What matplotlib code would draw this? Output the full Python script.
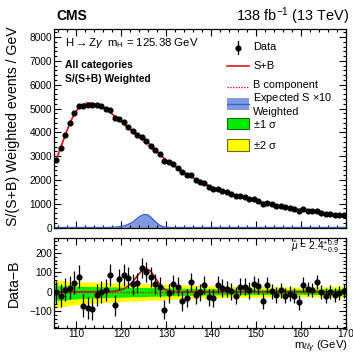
import numpy as np
import matplotlib
matplotlib.use("Agg")
import matplotlib.pyplot as plt
from matplotlib.lines import Line2D
from matplotlib.patches import Rectangle
from matplotlib.ticker import MultipleLocator

plt.rcParams['font.family'] = ['Liberation Sans', 'DejaVu Sans']
plt.rcParams['mathtext.fontset'] = 'custom'
plt.rcParams['mathtext.rm'] = 'Liberation Sans'
plt.rcParams['mathtext.it'] = 'Liberation Sans:italic'
plt.rcParams['mathtext.sf'] = 'Liberation Sans'

# ---------------- data ----------------
mass = np.arange(105.5, 170.0, 1.0)

data_top = [2847, 3340, 3890, 4392, 4807, 5108, 5109, 5147, 5132, 5155,
            5087, 4990, 4926, 4611, 4574, 4426, 4243, 4039, 3884, 3803,
            3623, 3438, 3241, 3074, 2809, 2753, 2659, 2517, 2321, 2218,
            2192, 2015, 1927, 1876, 1721, 1638, 1631, 1544, 1474, 1402,
            1320, 1312, 1262, 1192, 1181, 1125, 1009, 1051, 977, 925,
            912, 850, 825, 775, 706, 766, 714, 680, 694, 617,
            576, 567, 535, 518, 510]

bkg = [2850, 3360, 3880, 4370, 4760, 5030, 5180, 5230, 5220, 5170,
       5090, 4980, 4840, 4680, 4510, 4340, 4170, 4000, 3840, 3680,
       3520, 3360, 3200, 3050, 2900, 2760, 2620, 2490, 2370, 2250,
       2140, 2030, 1930, 1840, 1750, 1670, 1595, 1525, 1460, 1400,
       1340, 1285, 1235, 1185, 1140, 1095, 1055, 1015, 975, 940,
       905, 870, 835, 795, 760, 730, 700, 670, 645, 620,
       595, 570, 550, 525, 505]

resid = [-3, -20, 10, 22, 47, 78, -71, -83, -88, -15,
         -3, 10, 86, -69, 64, 86, 73, 39, 44, 123,
         103, 78, 41, 24, -91, -7, 39, 27, -49, -32,
         52, -15, -3, 36, -29, -32, 36, 19, 14, 2,
         -20, 27, 27, 7, 41, 30, -46, 36, 2, -15,
         7, -20, -10, -20, -54, 36, 14, 10, 49, -3,
         -19, -3, -15, -7, 5]

err = [60, 60, 59, 59, 58, 58, 58, 57, 57, 57,
       56, 56, 55, 55, 54, 54, 53, 53, 52, 52,
       51, 51, 50, 50, 49, 49, 48, 48, 47, 47,
       46, 46, 45, 45, 45, 44, 44, 44, 43, 43,
       43, 42, 42, 42, 41, 41, 41, 40, 40, 40,
       39, 39, 39, 38, 38, 38, 37, 37, 37, 36,
       36, 36, 35, 35, 35]

# fitted signal part (S+B - B) at bin centres
sig_fit = [0, 0, 0, 0, 0, 0, 0, 0, 0, 0,
           0, 0, 1, 3, 8, 15, 29, 51, 80, 108,
           120, 106, 73, 38, 14, 4, 1, 0, 0, 0,
           0, 0, 0, 0, 0, 0, 0, 0, 0, 0,
           0, 0, 0, 0, 0, 0, 0, 0, 0, 0,
           0, 0, 0, 0, 0, 0, 0, 0, 0, 0,
           0, 0, 0, 0, 0]

# expected signal x10
sig_mass = [105, 117, 118, 119, 120, 121, 121.5, 122, 122.5, 123, 123.5, 124, 124.5,
            125, 125.5, 126, 126.5, 127, 127.5, 128, 128.5, 129, 129.5, 130, 131, 170]
sig_exp = [0, 0, 10, 25, 50, 95, 130, 175, 230, 300, 380, 450, 510,
           545, 545, 510, 440, 350, 255, 170, 100, 55, 25, 10, 0, 0]

# background uncertainty bands (Data-B panel)
band_mass = [105, 110, 115, 120, 125, 130, 135, 140, 145, 150, 155, 160, 165, 170]
s2_up = [58, 52, 48, 45, 42, 38, 34, 31, 29, 27, 26, 25, 26, 30]
s2_dn = [-82, -66, -56, -50, -45, -40, -35, -31, -29, -27, -26, -25, -26, -30]
s1_up = [32, 28, 26, 24, 22, 20, 18, 16, 15, 14, 13, 13, 14, 16]
s1_dn = [-46, -36, -30, -27, -24, -21, -18, -16, -15, -14, -13, -13, -14, -16]

# ---------------- figure ----------------
W, H = 353, 354
fig = plt.figure(figsize=(W / 100, H / 100), dpi=100)

def fx(x):
    return x / W

def fy(y):
    return 1 - y / H

ax1 = fig.add_axes([fx(54), fy(228), fx(346) - fx(54), fy(29) - fy(228)])
ax2 = fig.add_axes([fx(54), fy(328), fx(346) - fx(54), fy(238) - fy(328)])

bkg_a = np.array(bkg)
sb_top = bkg_a + np.array(sig_fit)

red = '#e8141c'
sig_fill = '#7f9be0'
sig_line = '#4060d8'

# top panel
ax1.fill_between(sig_mass, 0, sig_exp, color=sig_fill, lw=0, zorder=1)
ax1.plot(sig_mass, sig_exp, color=sig_line, lw=1.0, zorder=2)
ax1.plot(mass, bkg_a, color=red, lw=1.0, ls=(0, (1, 1)), zorder=3)
ax1.plot(mass, sb_top, color=red, lw=1.2, zorder=3)
ax1.errorbar(mass, data_top, yerr=err, fmt='o', color='black', ms=3.4,
             elinewidth=0.9, capsize=0, zorder=5)
ax1.set_xlim(105, 170)
ax1.set_ylim(-20, 8340)
ax1.set_ylabel('S/(S+B) Weighted events / GeV', fontsize=10.2)
ax1.yaxis.set_label_coords(-0.115, 0.51)
ax1.tick_params(labelbottom=False)

# bottom panel
ax2.fill_between(band_mass, s2_dn, s2_up, color='#ffff00', lw=0, zorder=1)
ax2.fill_between(band_mass, s1_dn, s1_up, color='#00ee00', lw=0, zorder=2)
ax2.plot(mass, np.zeros(len(mass)), color=red, lw=1.0, ls=(0, (1, 1)), zorder=3)
ax2.plot(mass, sig_fit, color='#c0141c', lw=1.2, zorder=4)
ax2.errorbar(mass, resid, yerr=err, fmt='o', color='black', ms=3.4,
             elinewidth=0.9, capsize=0, zorder=5)
ax2.set_xlim(105, 170)
ax2.set_ylim(-185, 275)
ax2.set_ylabel('Data\u2212B', fontsize=10.2)
ax2.yaxis.set_label_coords(-0.115, 0.5)

for ax in (ax1, ax2):
    ax.tick_params(which='both', direction='in', top=True, right=True,
                   labelsize=7.3, width=0.8, pad=1.5)
    ax.tick_params(which='major', length=5)
    ax.tick_params(which='minor', length=2.5)
    ax.xaxis.set_major_locator(MultipleLocator(10))
    ax.xaxis.set_minor_locator(MultipleLocator(2))
    for s in ax.spines.values():
        s.set_linewidth(0.9)
ax2.tick_params(axis='x', which='both', pad=0.8)

ax1.yaxis.set_major_locator(MultipleLocator(1000))
ax1.yaxis.set_minor_locator(MultipleLocator(200))
ax2.yaxis.set_major_locator(MultipleLocator(100))
ax2.yaxis.set_minor_locator(MultipleLocator(20))

# texts
fig.text(fx(56), fy(16), 'CMS', fontsize=10, fontweight='bold', va='center', ha='left')
fig.text(fx(349), fy(16), r'138 fb$^{-1}$ (13 TeV)', fontsize=10.4, va='center', ha='right')
fig.text(fx(65), fy(43), r'H$\rightarrow$Z$\gamma$  m$_{\mathrm{H}}$ = 125.38 GeV',
         fontsize=8.2, va='center', ha='left')
fig.text(fx(65), fy(65), 'All categories', fontsize=7.4, fontweight='bold', va='center')
fig.text(fx(65), fy(79), 'S/(S+B) Weighted', fontsize=7.4, fontweight='bold', va='center')
fig.text(fx(339), fy(246.5), r'$\hat{\mu}$ = 2.4$^{+0.9}_{-0.9}$', fontsize=7.4,
         va='center', ha='right')
fig.text(fx(348), fy(349.5), r'm$_{\ell\ell\gamma}$ (GeV)', fontsize=8.2,
         va='baseline', ha='right')

# legend (manual)
tx = fx(253)
fs = 7.9
# Data
fig.add_artist(Line2D([fx(238), fx(238)], [fy(41), fy(54)], color='black', lw=0.9))
fig.add_artist(Line2D([fx(238)], [fy(47.5)], marker='o', color='black', ms=3.4))
fig.text(tx, fy(47.5), 'Data', fontsize=fs, va='center')
# S+B
fig.add_artist(Line2D([fx(227), fx(249)], [fy(66), fy(66)], color=red, lw=1.2))
fig.text(tx, fy(66), 'S+B', fontsize=fs, va='center')
# B component
fig.add_artist(Line2D([fx(227), fx(249)], [fy(86.5), fy(86.5)], color=red, lw=1.0, ls=(0, (1, 1))))
fig.text(tx, fy(85.5), 'B component', fontsize=fs, va='center')
# Expected S
fig.add_artist(Rectangle((fx(227), fy(110)), fx(22), fy(98) - fy(110),
                         transform=fig.transFigure, facecolor=sig_fill, lw=0))
fig.add_artist(Line2D([fx(227), fx(249)], [fy(104), fy(104)], color=sig_line, lw=1.0))
fig.text(tx, fy(98), r'Expected S $\times$10', fontsize=fs, va='center')
fig.text(tx, fy(112), 'Weighted', fontsize=fs, va='center')
# +-1 sigma
fig.add_artist(Rectangle((fx(227), fy(129)), fx(22), fy(118) - fy(129),
                         transform=fig.transFigure, facecolor='#00ee00',
                         edgecolor='#1a6a1a', lw=0.8))
fig.text(tx, fy(123.5), r'$\pm$1 $\mathrm{\sigma}$', fontsize=fs, va='center')
# +-2 sigma
fig.add_artist(Rectangle((fx(227), fy(151)), fx(22), fy(139) - fy(151),
                         transform=fig.transFigure, facecolor='#ffff00',
                         edgecolor='#6a6a1a', lw=0.8))
fig.text(tx, fy(145), r'$\pm$2 $\mathrm{\sigma}$', fontsize=fs, va='center')

fig.savefig('out.png', dpi=100)
